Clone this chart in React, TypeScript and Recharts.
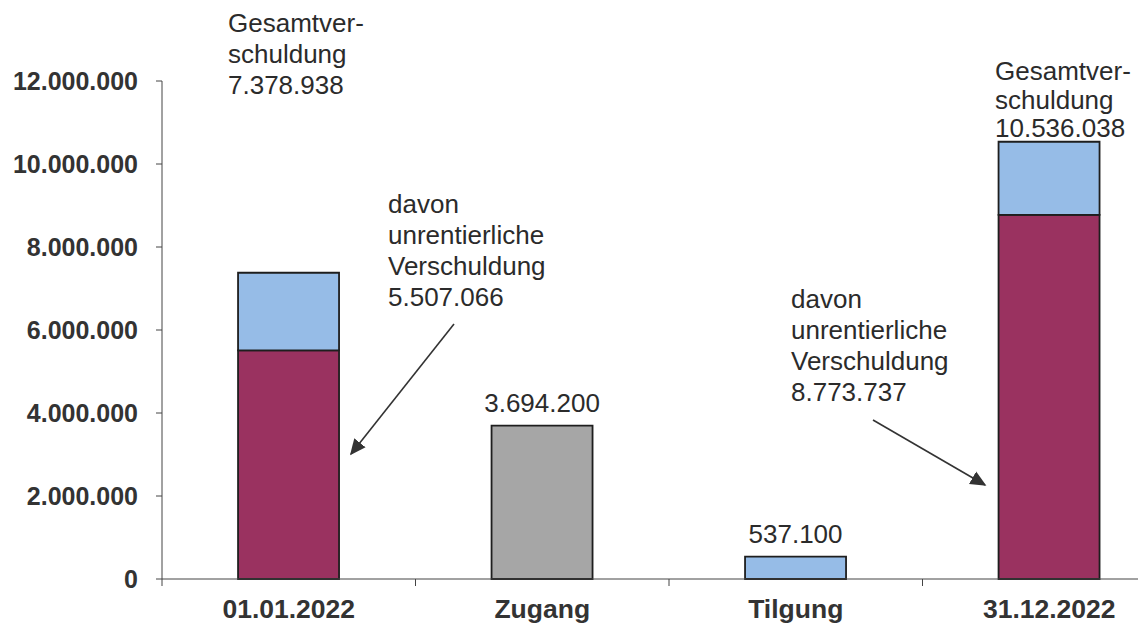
import React from "react";
import { BarChart, Bar, XAxis, YAxis, LabelList } from "recharts";

const categories = ["01.01.2022", "Zugang", "Tilgung", "31.12.2022"];
const gesamt = [7378938, null, null, 10536038];
const unrentierlich = [5507066, null, null, 8773737];
const zugang = [null, 3694200, null, null];
const tilgung = [null, null, 537100, null];
const yTicks = [0, 2000000, 4000000, 6000000, 8000000, 10000000, 12000000];

const RED = "#9a3260";
const BLUE = "#96bce7";
const GRAY = "#a6a6a6";
const INK = "#2b2b2b";
const FONT = "'Liberation Sans', Arial, sans-serif";

const fmt = (v: number) => String(Math.round(v)).replace(/\B(?=(\d{3})+(?!\d))/g, ".");

const data = categories.map((name, i) => ({
  name,
  unrentierlich: unrentierlich[i],
  rentierlich:
    gesamt[i] != null && unrentierlich[i] != null ? (gesamt[i] as number) - (unrentierlich[i] as number) : null,
  zugang: zugang[i],
  tilgung: tilgung[i],
}));

function CategoryTick(props: any) {
  const { x, y, payload } = props;
  const off = payload?.offset ?? 126.75;
  return (
    <g>
      <line x1={x - off} y1={y} x2={x - off} y2={y + 7} stroke="#444" strokeWidth={1} />
      <text x={x} y={y + 39} textAnchor="middle" fontSize={26.5} fontWeight="bold" fill="#333" fontFamily={FONT}>
        {payload.value}
      </text>
    </g>
  );
}

function Note({ x, y, lines, step }: { x: number; y: number; lines: string[]; step: number }) {
  return (
    <text x={x} y={y} fontSize={26} fill={INK} fontFamily={FONT}>
      {lines.map((l, i) => (
        <tspan key={i} x={x} y={y + i * step}>
          {l}
        </tspan>
      ))}
    </text>
  );
}

export default function App() {
  return (
    <div style={{ position: "absolute", left: 0, top: 0, width: 1138, height: 626, overflow: "hidden", background: "#fff" }}>
      <BarChart
        width={1200}
        height={626}
        data={data}
        margin={{ top: 81, right: 24, bottom: 7, left: 0 }}
        barCategoryGap="30%"
      >
        <XAxis
          dataKey="name"
          height={40}
          tickSize={0}
          tickMargin={0}
          tickLine={false}
          axisLine={{ stroke: "#444", strokeWidth: 1 }}
          tick={<CategoryTick />}
          interval={0}
        />
        <YAxis
          width={162}
          domain={[0, 12000000]}
          ticks={yTicks}
          interval={0}
          tickSize={6}
          tickMargin={18}
          axisLine={{ stroke: "#444", strokeWidth: 1 }}
          tickLine={{ stroke: "#444" }}
          tickFormatter={(v: number) => fmt(v)}
          tick={{ fontSize: 25, fontWeight: "bold", fill: "#333", fontFamily: FONT }}
        />
        <Bar dataKey="unrentierlich" stackId="a" fill={RED} stroke="#1e1e1e" strokeWidth={1.8} isAnimationActive={false} />
        <Bar dataKey="rentierlich" stackId="a" fill={BLUE} stroke="#1e1e1e" strokeWidth={1.8} isAnimationActive={false} />
        <Bar dataKey="zugang" stackId="a" fill={GRAY} stroke="#1e1e1e" strokeWidth={1.8} isAnimationActive={false}>
          <LabelList
            dataKey="zugang"
            position="top"
            offset={14}
            formatter={(v: any) => (v == null ? "" : fmt(v))}
            style={{ fontSize: 26, fill: INK, fontFamily: FONT }}
          />
        </Bar>
        <Bar dataKey="tilgung" stackId="a" fill={BLUE} stroke="#1e1e1e" strokeWidth={1.8} isAnimationActive={false}>
          <LabelList
            dataKey="tilgung"
            position="top"
            offset={14}
            formatter={(v: any) => (v == null ? "" : fmt(v))}
            style={{ fontSize: 26, fill: INK, fontFamily: FONT }}
          />
        </Bar>
      </BarChart>
      <svg width={1138} height={626} style={{ position: "absolute", left: 0, top: 0, pointerEvents: "none" }}>
        <defs>
          <marker id="arrowHead" viewBox="0 0 10 10" refX="9" refY="5" markerWidth="10" markerHeight="10" orient="auto">
            <path d="M0,0.5 L10,5 L0,9.5 z" fill="#333" />
          </marker>
        </defs>
        <Note x={228} y={32} step={31} lines={["Gesamtver-", "schuldung", fmt(gesamt[0] as number)]} />
        <Note
          x={388}
          y={213}
          step={31}
          lines={["davon", "unrentierliche", "Verschuldung", fmt(unrentierlich[0] as number)]}
        />
        <Note
          x={791}
          y={308}
          step={31}
          lines={["davon", "unrentierliche", "Verschuldung", fmt(unrentierlich[3] as number)]}
        />
        <Note x={995} y={80} step={28.5} lines={["Gesamtver-", "schuldung", fmt(gesamt[3] as number)]} />
        <line x1={454} y1={324} x2={351} y2={454} stroke="#333" strokeWidth={1.6} markerEnd="url(#arrowHead)" />
        <line x1={873} y1={420} x2={985} y2={485} stroke="#333" strokeWidth={1.6} markerEnd="url(#arrowHead)" />
      </svg>
    </div>
  );
}
